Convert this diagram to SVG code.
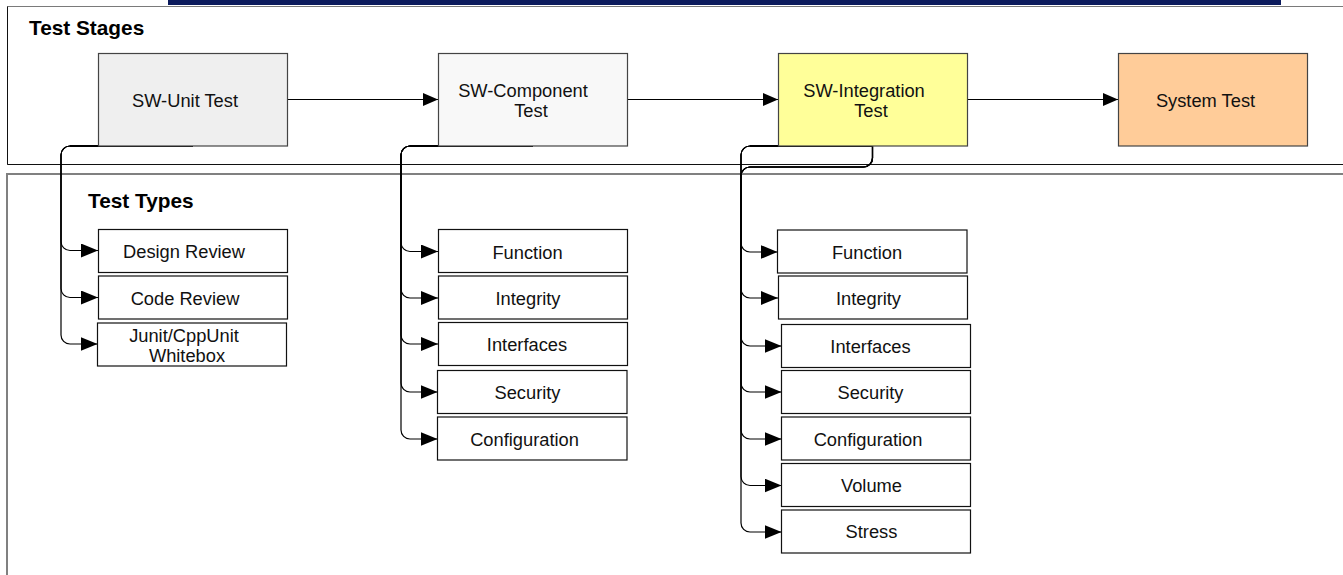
<svg xmlns="http://www.w3.org/2000/svg" width="1343" height="575" viewBox="0 0 1343 575">
<defs>
<style>
.t{font-family:"Liberation Sans",Arial,sans-serif;font-size:18.3px;fill:#111;text-anchor:middle}
.h{font-family:"Liberation Sans",Arial,sans-serif;font-size:20.8px;font-weight:bold;fill:#000}
.stage{stroke:#444;stroke-width:1.2}
.box{fill:#fff;stroke:#111;stroke-width:1.2}
.c{fill:none;stroke:#000;stroke-width:1.2}
.main{fill:none;stroke:#000;stroke-width:1;marker-end:url(#ah)}
.br{marker-end:url(#ab)}
</style>
<marker id="ah" markerUnits="userSpaceOnUse" markerWidth="15" markerHeight="13" refX="15" refY="6.5" orient="auto"><path d="M0,0 L15,6.5 L0,13 z" fill="#000"/></marker>
<marker id="ab" markerUnits="userSpaceOnUse" markerWidth="17" markerHeight="14" refX="17" refY="7" orient="auto"><path d="M0,0 L17,7 L0,14 z" fill="#000"/></marker>
</defs>
<rect width="1343" height="575" fill="#fff"/>
<g id="header-bar"><rect x="168" y="0" width="1113" height="5" fill="#0b1a5c"/></g>
<g id="panel-stages">
<path d="M1343,6.5 H7.5 V164.5 H1343" fill="none" stroke="#7a7a7a" stroke-width="1"/>
<path d="M7.5,6.5 V164.5 H1343" fill="none" stroke="#111" stroke-width="1"/>
<text class="h" x="29" y="35">Test Stages</text>
</g>
<g id="panel-types">
<path d="M1343,174 H7 V575" fill="none" stroke="#808080" stroke-width="2"/>
<text class="h" x="88" y="207.5">Test Types</text>
</g>
<g id="connectors">
<path class="main" d="M287.5,99.5 H438"/>
<path class="main" d="M627.5,99.5 H778"/>
<path class="main" d="M967.5,99.5 H1118"/>
<path d="M193,146 H70 M533,146 H410 M872.5,146 H750" fill="none" stroke="#000" stroke-width="2.2"/>
<path class="c br" d="M193,146 H70 A9,9 0 0 0 61,155 V241.5 A9,9 0 0 0 70,250.5 H98"/>
<path class="c br" d="M193,146 H70 A9,9 0 0 0 61,155 V288.5 A9,9 0 0 0 70,297.5 H98"/>
<path class="c br" d="M193,146 H70 A9,9 0 0 0 61,155 V335 A9,9 0 0 0 70,344 H97.5"/>
<path class="c br" d="M533,146 H410 A9,9 0 0 0 401,155 V242.5 A9,9 0 0 0 410,251.5 H438"/>
<path class="c br" d="M533,146 H410 A9,9 0 0 0 401,155 V289 A9,9 0 0 0 410,298 H438"/>
<path class="c br" d="M533,146 H410 A9,9 0 0 0 401,155 V335 A9,9 0 0 0 410,344 H438"/>
<path class="c br" d="M533,146 H410 A9,9 0 0 0 401,155 V383 A9,9 0 0 0 410,392 H437.5"/>
<path class="c br" d="M533,146 H410 A9,9 0 0 0 401,155 V430 A9,9 0 0 0 410,439 H437.5"/>
<path class="c br" d="M872.5,146 H750 A9,9 0 0 0 741,155 V243 A9,9 0 0 0 750,252 H777.5"/>
<path class="c br" d="M872.5,146 H750 A9,9 0 0 0 741,155 V289 A9,9 0 0 0 750,298 H778"/>
<path class="c br" d="M872.5,146 H750 A9,9 0 0 0 741,155 V337 A9,9 0 0 0 750,346 H781.5"/>
<path class="c br" d="M872.5,146 V158 A9,9 0 0 1 863.5,167 H750 A9,9 0 0 0 741,176 V383 A9,9 0 0 0 750,392 H781.5"/>
<path class="c br" d="M872.5,146 V158 A9,9 0 0 1 863.5,167 H750 A9,9 0 0 0 741,176 V430 A9,9 0 0 0 750,439 H781.5"/>
<path class="c br" d="M872.5,146 V158 A9,9 0 0 1 863.5,167 H750 A9,9 0 0 0 741,176 V476.5 A9,9 0 0 0 750,485.5 H781.5"/>
<path class="c br" d="M872.5,146 V158 A9,9 0 0 1 863.5,167 H750 A9,9 0 0 0 741,176 V523 A9,9 0 0 0 750,532 H781.5"/>
</g>
<g id="stage-unit"><rect class="stage" x="98.5" y="53.5" width="189" height="92.5" fill="#efefef"/><text class="t" x="185" y="107">SW-Unit Test</text></g>
<g id="stage-component"><rect class="stage" x="438.5" y="53.5" width="189" height="92.5" fill="#f8f8f8"/><text class="t" x="523" y="96.5">SW-Component</text><text class="t" x="531" y="116.5">Test</text></g>
<g id="stage-integration"><rect class="stage" x="778.5" y="53.5" width="189" height="92.5" fill="#ffff99"/><text class="t" x="864" y="96.5">SW-Integration</text><text class="t" x="871" y="116.5">Test</text></g>
<g id="stage-system"><rect class="stage" x="1118.5" y="53.5" width="189" height="92.5" fill="#ffcc99"/><text class="t" x="1205.5" y="107">System Test</text></g>
<g id="u-design"><rect class="box" x="98.5" y="229.5" width="189" height="43"/><text class="t" x="184" y="257.5">Design Review</text></g>
<g id="u-code"><rect class="box" x="98.5" y="276" width="189" height="43"/><text class="t" x="185" y="304.5">Code Review</text></g>
<g id="u-junit"><rect class="box" x="97.5" y="323" width="189" height="43"/><text class="t" x="184" y="341.5">Junit/CppUnit</text><text class="t" x="187" y="361.5">Whitebox</text></g>
<g id="c-function"><rect class="box" x="438.5" y="229.5" width="189" height="43"/><text class="t" x="527.5" y="258.5">Function</text></g>
<g id="c-integrity"><rect class="box" x="438.5" y="276" width="189" height="43"/><text class="t" x="528" y="305">Integrity</text></g>
<g id="c-interfaces"><rect class="box" x="438.5" y="322.5" width="189" height="43"/><text class="t" x="527" y="350.5">Interfaces</text></g>
<g id="c-security"><rect class="box" x="437.5" y="370.5" width="189.5" height="43"/><text class="t" x="527.5" y="399">Security</text></g>
<g id="c-configuration"><rect class="box" x="437.5" y="417" width="189.5" height="43"/><text class="t" x="524.5" y="446">Configuration</text></g>
<g id="i-function"><rect class="box" x="777.5" y="230" width="189.5" height="43"/><text class="t" x="867" y="259">Function</text></g>
<g id="i-integrity"><rect class="box" x="778.5" y="276" width="189" height="43"/><text class="t" x="868.5" y="305">Integrity</text></g>
<g id="i-interfaces"><rect class="box" x="781.5" y="324.5" width="189" height="43"/><text class="t" x="870.5" y="352.5">Interfaces</text></g>
<g id="i-security"><rect class="box" x="781.5" y="370.5" width="189" height="43"/><text class="t" x="870.5" y="399">Security</text></g>
<g id="i-configuration"><rect class="box" x="781.5" y="417" width="189" height="43"/><text class="t" x="868" y="445.5">Configuration</text></g>
<g id="i-volume"><rect class="box" x="781.5" y="463.5" width="189" height="43"/><text class="t" x="871.5" y="491.5">Volume</text></g>
<g id="i-stress"><rect class="box" x="781.5" y="510" width="189" height="43"/><text class="t" x="871.5" y="538">Stress</text></g>
</svg>
